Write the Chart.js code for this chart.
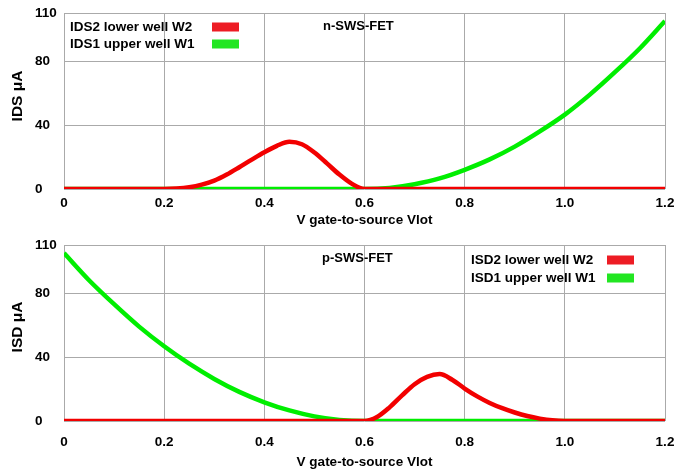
<!DOCTYPE html>
<html>
<head>
<meta charset="utf-8">
<script src="https://cdn.jsdelivr.net/npm/chart.js@4.4.1/dist/chart.umd.min.js"></script>
<style>
  html, body { margin: 0; padding: 0; background: #fff; }
  .box { position: absolute; left: 0; width: 676px; height: 235px; }
</style>
</head>
<body>
<div class="box" style="top:0"><canvas id="nChart" width="676" height="235"></canvas></div>
<div class="box" style="top:235px"><canvas id="pChart" width="676" height="235"></canvas></div>
<script>
const xTicks = [0, 0.2, 0.4, 0.6, 0.8, 1.0, 1.2];
const yTicks = [0, 40, 80, 110];

// n-SWS-FET (arriba)
const nLowerV = [0, 0.2, 0.225, 0.25, 0.275, 0.3, 0.325, 0.35, 0.375, 0.4, 0.425, 0.45, 0.475, 0.5, 0.525, 0.55, 0.575, 0.6, 1.2];
const nLowerI = [0, 0, 0.3, 1.1, 2.7, 5.2, 9, 13.6, 18.4, 23, 27, 29.5, 28, 22.8, 16, 9, 3.2, 0, 0];
const nUpperV = [0, 0.6, 0.65, 0.7, 0.75, 0.8, 0.85, 0.9, 0.95, 1.0, 1.05, 1.1, 1.15, 1.2];
const nUpperI = [0, 0, 0.7, 3, 6.6, 12, 18.5, 26.5, 36, 46.5, 59, 73, 88, 105];

// p-SWS-FET (abajo)
const pLowerV = [0, 0.6, 0.625, 0.65, 0.675, 0.7, 0.725, 0.75, 0.775, 0.8, 0.825, 0.85, 0.875, 0.9, 0.925, 0.95, 0.975, 1.0, 1.2];
const pLowerI = [0, 0, 2.5, 8.5, 16, 23, 27.6, 29.3, 25.8, 20.3, 15.4, 11.3, 8, 5.3, 3.1, 1.5, 0.4, 0, 0];
const pUpperV = [0, 0.05, 0.1, 0.15, 0.2, 0.25, 0.3, 0.35, 0.4, 0.45, 0.5, 0.55, 0.6, 1.2];
const pUpperI = [105, 88, 73, 59, 46.7, 35.8, 26.3, 18.2, 11.7, 6.6, 2.9, 0.7, 0, 0];

const FONT = '"Liberation Sans", Arial, sans-serif';
const RED = '#f20000', GREEN = '#00ee00';

function toPoints(xs, ys) {
    return xs.map((x, i) => ({ x: x, y: ys[i] }));
}

// leyenda, nota y titulo vertical dibujados a mano
const overlay = {
    id: 'overlay',
    afterDraw(chart, args, o) {
        const ctx = chart.ctx;
        ctx.save();
        ctx.textBaseline = 'middle';
        ctx.textAlign = 'left';
        ctx.font = 'bold 13.5px ' + FONT;
        chart.data.datasets.forEach((ds, i) => {
            const y = o.legendY + i * o.rowGap;
            ctx.fillStyle = '#000';
            ctx.fillText(ds.label, o.legendX, y);
            ctx.fillStyle = ds.swatch;
            ctx.fillRect(o.swatchX, y - 4.5, 27, 9);
        });
        ctx.fillStyle = '#000';
        ctx.font = 'bold 13px ' + FONT;
        ctx.fillText(o.note, o.noteX, o.noteY);
        ctx.translate(o.titleX, o.titleY);
        ctx.rotate(-Math.PI / 2);
        ctx.textAlign = 'center';
        ctx.font = 'bold 15.5px ' + FONT;
        ctx.fillText(o.yTitle, 0, 0);
        ctx.restore();
    }
};

function makeChart(id, lower, upper, cfg) {
    const ctx = document.getElementById(id).getContext('2d');
    return new Chart(ctx, {
        type: 'line',
        data: {
            datasets: [{
                label: lower.label,
                data: lower.data,
                borderColor: RED,
                swatch: '#ed1c24',
                borderWidth: 4.5,
                pointRadius: 0,
                cubicInterpolationMode: 'monotone'
            }, {
                label: upper.label,
                data: upper.data,
                borderColor: GREEN,
                swatch: '#22e622',
                borderWidth: 4.5,
                pointRadius: 0,
                cubicInterpolationMode: 'monotone'
            }]
        },
        options: {
            responsive: false,
            animation: false,
            layout: { padding: { left: 35, top: cfg.top, right: 11, bottom: 0 } },
            plugins: {
                legend: { display: false },
                tooltip: { enabled: false },
                overlay: cfg.overlay
            },
            scales: {
                x: {
                    type: 'linear',
                    min: 0,
                    max: 1.2,
                    afterBuildTicks: s => { s.ticks = xTicks.map(v => ({ value: v })); },
                    afterFit: s => { s.height = cfg.xHeight; s.paddingLeft = 0; s.paddingRight = 0; },
                    ticks: {
                        color: '#000',
                        padding: cfg.xPad,
                        font: { family: FONT, size: 13.5, weight: 'bold' },
                        callback: v => v === 0 ? '0' : v.toFixed(1)
                    },
                    grid: { color: '#aaaaaa', drawTicks: false },
                    border: { display: false },
                    title: {
                        display: true,
                        text: 'V gate-to-source Vlot',
                        color: '#000',
                        padding: { top: 0, bottom: cfg.titlePad },
                        font: { family: FONT, size: 13.5, weight: 'bold' }
                    }
                },
                y: {
                    min: 0,
                    max: 110,
                    afterBuildTicks: s => { s.ticks = yTicks.map(v => ({ value: v })); },
                    afterFit: s => { s.width = 29; s.paddingTop = 0; s.paddingBottom = 0; },
                    ticks: {
                        color: '#000',
                        crossAlign: 'far',
                        font: { family: FONT, size: 13.5, weight: 'bold' },
                        callback: v => String(v)
                    },
                    grid: { color: '#aaaaaa', drawTicks: false },
                    border: { display: false }
                }
            }
        },
        plugins: [overlay]
    });
}

makeChart('nChart',
    { label: 'IDS2 lower well W2', data: toPoints(nLowerV, nLowerI) },
    { label: 'IDS1 upper well W1', data: toPoints(nUpperV, nUpperI) },
    {
        top: 13, xHeight: 46, xPad: 6, titlePad: 7,
        overlay: { legendX: 70, legendY: 27, rowGap: 17, swatchX: 212,
                   note: 'n-SWS-FET', noteX: 323, noteY: 26,
                   yTitle: 'IDS μA', titleX: 18, titleY: 96 }
    });

makeChart('pChart',
    { label: 'ISD2 lower well W2', data: toPoints(pLowerV, pLowerI) },
    { label: 'ISD1 upper well W1', data: toPoints(pUpperV, pUpperI) },
    {
        top: 10, xHeight: 49, xPad: 13, titlePad: 0,
        overlay: { legendX: 471, legendY: 25, rowGap: 18, swatchX: 607,
                   note: 'p-SWS-FET', noteX: 322, noteY: 23,
                   yTitle: 'ISD μA', titleX: 18, titleY: 92 }
    });
</script>
</body>
</html>
